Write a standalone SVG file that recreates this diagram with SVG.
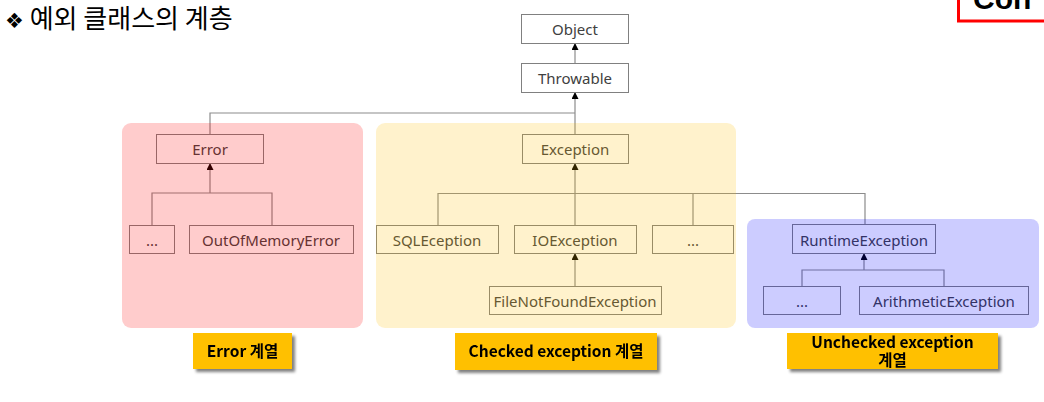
<svg xmlns="http://www.w3.org/2000/svg" width="1044" height="402" viewBox="0 0 1044 402">
<defs>
<marker id="arr" viewBox="0 0 10 10" refX="10" refY="5" markerWidth="7" markerHeight="7" markerUnits="userSpaceOnUse" orient="auto">
<path d="M0,0 L10,5 L0,10 z" fill="#000"/>
</marker>
<filter id="sh" x="-10%" y="-20%" width="130%" height="160%">
<feGaussianBlur in="SourceAlpha" stdDeviation="1.5"/>
<feOffset dx="3" dy="3" result="b"/>
<feComponentTransfer><feFuncA type="linear" slope="0.5"/></feComponentTransfer>
<feMerge><feMergeNode/><feMergeNode in="SourceGraphic"/></feMerge>
</filter>
</defs>
<style>
.box{fill:#fff;stroke:#808080;stroke-width:1}
.t{font-family:"Noto Sans","Open Sans",sans-serif;font-size:15px;fill:#404040;text-anchor:middle;dominant-baseline:central}
.ln{fill:none;stroke:#8c8c8c;stroke-width:1.2}
.lbl{fill:#FFC000}
.lt{font-family:"Noto Sans CJK KR","Noto Sans",sans-serif;font-size:15.5px;font-weight:bold;fill:#000;text-anchor:middle}
.title{font-family:"Noto Sans CJK KR","DejaVu Sans",sans-serif;font-size:26px;fill:#000}
</style>
<rect width="1044" height="402" fill="#fff"/>
<text class="title" x="5" y="28"><tspan font-family="DejaVu Sans" font-size="21">❖</tspan> 예외 클래스의 계층</text>
<g id="corner">
<rect x="958.5" y="-10" width="100" height="31" fill="#fff" stroke="#ff0000" stroke-width="3"/>
<text x="973" y="9" font-family="Liberation Sans,sans-serif" font-weight="bold" font-size="30" fill="#000">Con</text>
</g>
<g id="connectors">
<line class="ln" x1="575" y1="63" x2="575" y2="43" marker-end="url(#arr)"/>
<path class="ln" d="M210,134 V113 H575"/>
<line class="ln" x1="575" y1="134" x2="575" y2="92" marker-end="url(#arr)"/>
<path class="ln" d="M152,225 V193 H272 V225"/>
<line class="ln" x1="210" y1="193" x2="210" y2="163" marker-end="url(#arr)"/>
<path class="ln" d="M438,225 V193.5 H865 V224 M693,193.5 V225"/>
<line class="ln" x1="575" y1="225" x2="575" y2="163" marker-end="url(#arr)"/>
<line class="ln" x1="575" y1="286" x2="575" y2="253" marker-end="url(#arr)"/>
<path class="ln" d="M802,286 V270 H944 V286"/>
<line class="ln" x1="864" y1="270" x2="864" y2="253" marker-end="url(#arr)"/>
</g>
<g id="object"><rect class="box" x="521.5" y="14.5" width="107" height="29"/><text class="t" x="575" y="29">Object</text></g>
<g id="throwable"><rect class="box" x="521.5" y="63.5" width="107" height="29"/><text class="t" x="575" y="78">Throwable</text></g>
<g id="error"><rect class="box" x="156.5" y="134.5" width="107" height="29"/><text class="t" x="210" y="149">Error</text></g>
<g id="error-etc"><rect class="box" x="129.5" y="225.5" width="45" height="28"/><text class="t" x="152" y="240">...</text></g>
<g id="oom"><rect class="box" x="189.5" y="225.5" width="164" height="28"/><text class="t" x="271" y="240">OutOfMemoryError</text></g>
<g id="exception"><rect class="box" x="522.5" y="134.5" width="106" height="29"/><text class="t" x="575" y="149">Exception</text></g>
<g id="sql"><rect class="box" x="376.5" y="225.5" width="122" height="28"/><text class="t" x="437" y="240">SQLEception</text></g>
<g id="io"><rect class="box" x="514.5" y="225.5" width="122" height="28"/><text class="t" x="575" y="240">IOException</text></g>
<g id="exc-etc"><rect class="box" x="652.5" y="225.5" width="81" height="28"/><text class="t" x="693" y="240">...</text></g>
<g id="fnf"><rect class="box" x="489.5" y="286.5" width="172" height="28"/><text class="t" x="575" y="301">FileNotFoundException</text></g>
<g id="runtime"><rect class="box" x="792.5" y="224.5" width="143" height="29"/><text class="t" x="864" y="240">RuntimeException</text></g>
<g id="rt-etc"><rect class="box" x="763.5" y="286.5" width="77" height="28"/><text class="t" x="802" y="301">...</text></g>
<g id="arith"><rect class="box" x="859.5" y="286.5" width="169" height="28"/><text class="t" x="944" y="301">ArithmeticException</text></g>
<g id="panel-error"><rect x="122" y="123" width="241" height="205" rx="9" fill="#ff0000" fill-opacity="0.2"/></g>
<g id="panel-checked"><rect x="376" y="123" width="360" height="205" rx="9" fill="#ffbf00" fill-opacity="0.2"/></g>
<g id="panel-unchecked"><rect x="747" y="219" width="292" height="109" rx="8" fill="#0000ff" fill-opacity="0.2"/></g>
<g id="label-error" filter="url(#sh)"><rect class="lbl" x="193" y="333" width="99" height="36"/><text class="lt" x="242.5" y="357">Error 계열</text></g>
<g id="label-checked" filter="url(#sh)"><rect class="lbl" x="455" y="333" width="202" height="37"/><text class="lt" x="556" y="357">Checked exception 계열</text></g>
<g id="label-unchecked" filter="url(#sh)"><rect class="lbl" x="787" y="333" width="211" height="36"/><text class="lt" x="892.5" y="348" font-size="14.5"><tspan x="892.5">Unchecked exception</tspan><tspan x="892.5" dy="18">계열</tspan></text></g>
</svg>
